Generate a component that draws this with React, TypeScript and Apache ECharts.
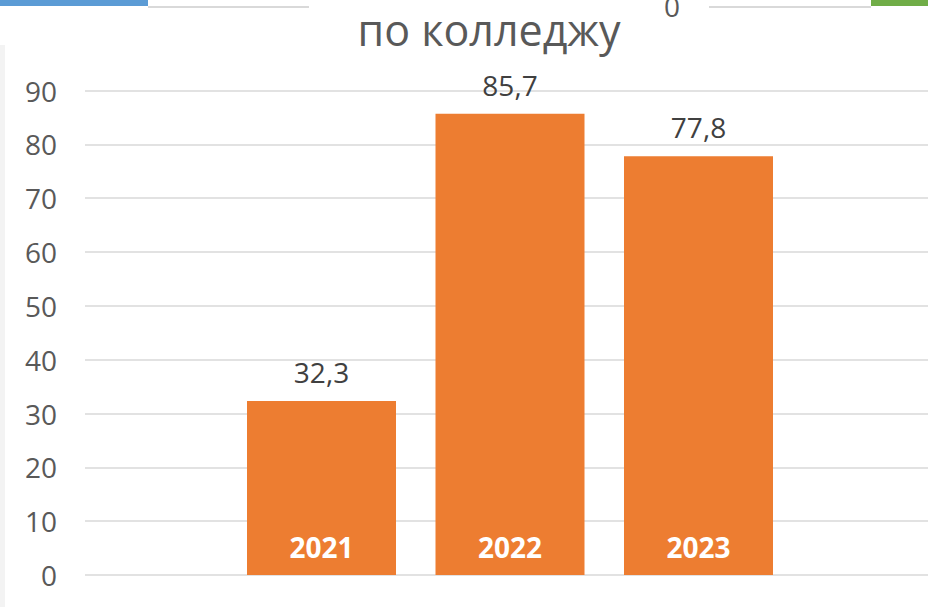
import React, { useEffect, useRef } from "react";
import * as echarts from "echarts";

const years = ["2021", "2022", "2023"];
const values = [32.3, 85.7, 77.8];
const titleText = "по колледжу";
const yMin = 0;
const yMax = 90;
const yInterval = 10;
const topStrayLabel = "0";

const FONT = "'Open Sans', sans-serif";

export default function App() {
  const ref = useRef<HTMLDivElement>(null);
  useEffect(() => {
    if (!ref.current) return;
    const chart = echarts.init(ref.current, undefined, { renderer: "svg" });
    chart.setOption({
      animation: false,
      backgroundColor: "#ffffff",
      title: {
        text: titleText,
        left: 484,
        top: 3,
        textAlign: "center",
        textStyle: {
          fontFamily: FONT,
          fontSize: 43,
          fontWeight: "normal",
          color: "#595959",
          lineHeight: 43,
        },
      },
      graphic: [
        { type: "rect", shape: { x: 0, y: 45, width: 5, height: 562 }, style: { fill: "#f3f3f3" }, z: -1 },
        { type: "rect", shape: { x: 0, y: 0, width: 148, height: 6 }, style: { fill: "#5B9BD5" } },
        { type: "line", shape: { x1: 148, y1: 7, x2: 309, y2: 7 }, style: { stroke: "#d9d9d9", lineWidth: 2 } },
        { type: "line", shape: { x1: 709, y1: 7, x2: 871, y2: 7 }, style: { stroke: "#d9d9d9", lineWidth: 2 } },
        { type: "rect", shape: { x: 871, y: 0, width: 57, height: 6 }, style: { fill: "#70AD47" } },
        {
          type: "text",
          x: 672,
          y: 20,
          style: {
            text: topStrayLabel,
            font: "28px 'Open Sans', sans-serif",
            fill: "#595959",
            align: "center",
            verticalAlign: "bottom",
          },
        },
      ],
      grid: [
        { left: 85, right: 0, top: 90.5, bottom: 32 },
        { left: 227.25, right: 135.25, top: 90.5, bottom: 32 },
      ],
      xAxis: [
        { type: "value", gridIndex: 0, show: false, min: 0, max: 1 },
        {
          type: "category",
          gridIndex: 1,
          data: years,
          z: 10,
          axisLine: { show: false },
          axisTick: { show: false },
          axisLabel: {
            inside: true,
            margin: 28,
            verticalAlign: "middle",
            color: "#ffffff",
            fontWeight: "bold",
            fontSize: 28,
            fontFamily: FONT,
            lineHeight: 28,
          },
        },
      ],
      yAxis: [
        {
          type: "value",
          gridIndex: 0,
          min: yMin,
          max: yMax,
          interval: yInterval,
          axisLine: { show: false },
          axisTick: { show: false },
          axisLabel: {
            margin: 28,
            color: "#595959",
            fontSize: 28,
            fontFamily: FONT,
          },
          splitLine: { lineStyle: { color: "#d9d9d9", width: 1.5 } },
        },
        {
          type: "value",
          gridIndex: 1,
          min: yMin,
          max: yMax,
          interval: yInterval,
          show: false,
          splitLine: { show: false },
        },
      ],
      series: [
        {
          type: "bar",
          xAxisIndex: 1,
          yAxisIndex: 1,
          data: values,
          barWidth: 149,
          itemStyle: { color: "#ED7D31" },
          label: {
            show: true,
            position: "top",
            distance: 15,
            color: "#404040",
            fontSize: 28,
            fontFamily: FONT,
            lineHeight: 28,
            formatter: (p: any) => String(p.value).replace(".", ","),
          },
        },
      ],
    });
    return () => chart.dispose();
  }, []);
  return (
    <div
      ref={ref}
      style={{ position: "fixed", left: 0, top: 0, width: 928, height: 607 }}
    />
  );
}
